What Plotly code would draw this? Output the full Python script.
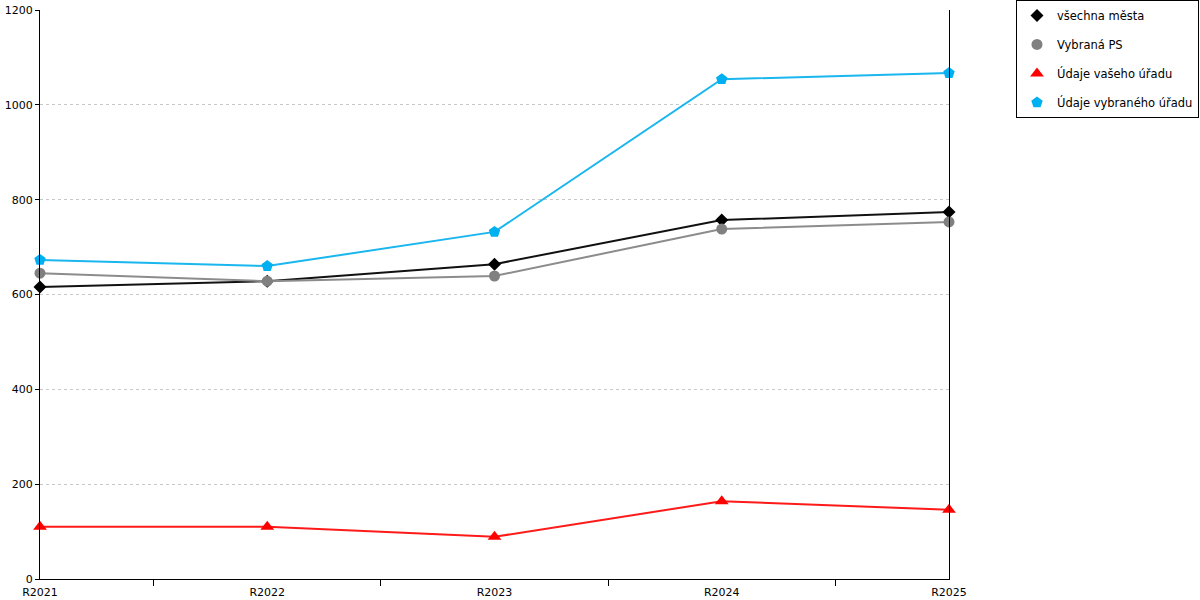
import plotly.graph_objects as go

# roky a hodnoty
roky = ['R2021', 'R2022', 'R2023', 'R2024', 'R2025']
vsechna_mesta = [616, 628, 664, 757, 774]
vybrana_ps = [645, 628, 639, 738, 753]
udaje_vaseho = [110, 110, 89, 164, 146]
udaje_vybraneho = [673, 660, 732, 1054, 1067]

fig = go.Figure()

def add_line(y, name, line_color, marker_color, symbol, size):
    # čára s body, v legendě jen značka
    fig.add_trace(go.Scatter(
        x=roky, y=y, name=name, legendgroup=name, showlegend=False,
        mode='lines+markers',
        line=dict(color=line_color, width=2),
        marker=dict(color=marker_color, symbol=symbol, size=size),
        cliponaxis=False,
    ))
    fig.add_trace(go.Scatter(
        x=[None], y=[None], name=name, legendgroup=name,
        mode='markers',
        marker=dict(color=marker_color, symbol=symbol, size=size),
    ))

add_line(vsechna_mesta, 'všechna města', '#111111', '#000000', 'diamond', 10)
add_line(vybrana_ps, 'Vybraná PS', '#8c8c8c', '#808080', 'circle', 11)
add_line(udaje_vaseho, 'Údaje vašeho úřadu', '#ff1a1a', '#ff0000', 'triangle-up', 12)
add_line(udaje_vybraneho, 'Údaje vybraného úřadu', '#1ab6ee', '#00b0f0', 'pentagon', 12)

fig.update_layout(
    width=1200, height=600,
    margin=dict(l=40, r=251, t=10, b=21, autoexpand=False),
    plot_bgcolor='white', paper_bgcolor='white',
    font=dict(family='DejaVu Sans', size=12, color='#000000'),
    legend=dict(
        x=1.0737, y=1.0176, xanchor='left', yanchor='top',
        bordercolor='#000000', borderwidth=1,
        traceorder='grouped', tracegroupgap=10,
        itemwidth=30,
        font=dict(size=11.5),
    ),
)
fig.update_xaxes(
    type='category', range=[0, 4],
    showline=True, linecolor='#000000', linewidth=1,
    ticks='outside', ticklen=6, tickcolor='#000000', tickson='boundaries',
    showgrid=False, tickfont=dict(size=11), ticklabelstandoff=3,
)
fig.update_yaxes(
    range=[0, 1200], dtick=200,
    showline=True, linecolor='#000000', linewidth=1, mirror=True,
    ticks='outside', ticklen=4, tickcolor='#000000',
    showgrid=True, gridcolor='#c8c8c8', griddash='dot', gridwidth=1,
    zeroline=False, tickfont=dict(size=11),
)

fig.write_html('out.html', config={'displayModeBar': False},
               post_script="document.body.style.margin='0';")
